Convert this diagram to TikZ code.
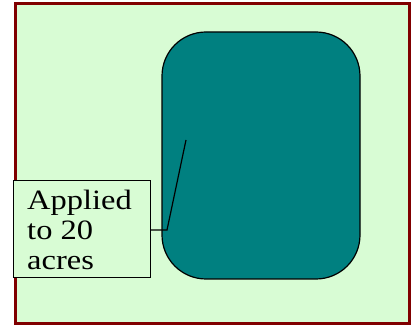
\documentclass[tikz,border=0pt]{standalone}
\usepackage{fontspec}
\setmainfont{Liberation Serif}
\definecolor{bggreen}{RGB}{216,252,212}
\definecolor{frame}{RGB}{128,0,0}
\definecolor{teal2}{RGB}{0,128,128}
\tikzset{
  callout/.style={draw=black, line width=1.2pt, fill=bggreen, inner sep=0pt},
  leader/.style={draw=black, line width=1.2pt},
}
\begin{document}
\begin{tikzpicture}[x=1pt,y=1pt]
\useasboundingbox (0,0) rectangle (416,327);
\fill[white] (0,0) rectangle (416,327);
\draw[frame, line width=3pt, fill=bggreen] (15.5,3.5) rectangle (409.5,323.5);
\draw[black, line width=1.2pt, fill=teal2, rounded corners=44pt] (162,48) rectangle (360,295) node[pos=0.5] (field) {};
\node[callout, minimum width=137pt, minimum height=97pt, anchor=north west] (box) at (13,147) {};
\begin{scope}[xscale=1.16]
\node[anchor=north west, align=left, font=\fontsize{28}{30}\selectfont, inner sep=0pt, transform shape] (txt) at (27/1.16,137) {Applied\\to 20\\acres};
\end{scope}
\coordinate (bend) at (167,97);
\coordinate (tip) at (186,187);
\draw[leader] (box.east |- bend) -- (bend) -- (tip);
\end{tikzpicture}
\end{document}
